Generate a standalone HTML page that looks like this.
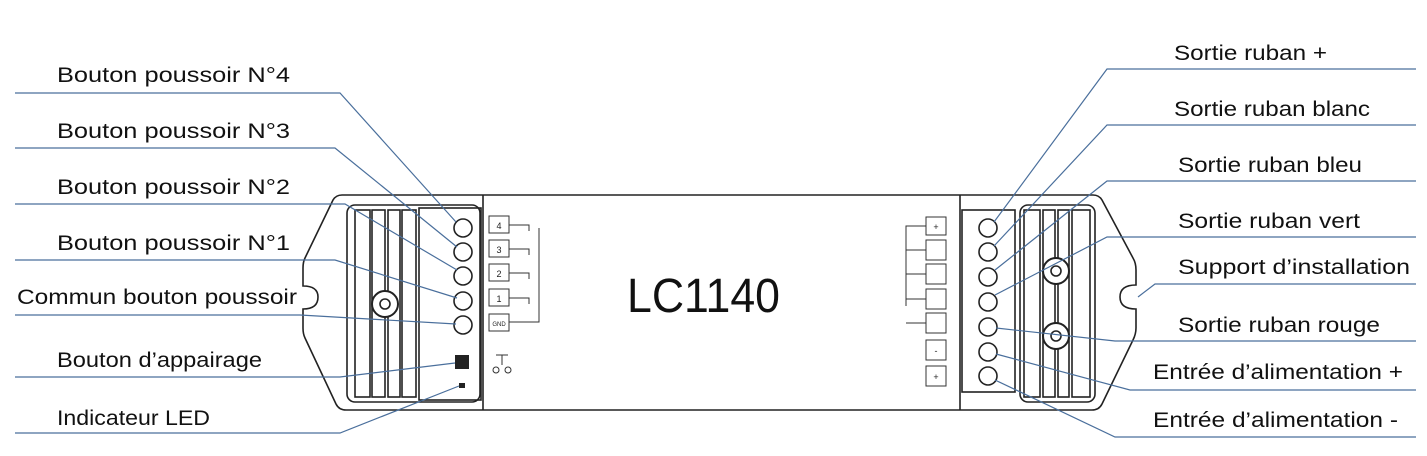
<!DOCTYPE html>
<html><head><meta charset="utf-8"><style>
html,body{margin:0;padding:0;background:#fff;}
svg{display:block;}
text{font-family:"Liberation Sans",sans-serif;}
.l{font-size:21px;fill:#111;}
</style></head><body>
<svg width="1427" height="456" viewBox="0 0 1427 456" xmlns="http://www.w3.org/2000/svg">
<rect width="1427" height="456" fill="#fff"/>
<g fill="none" stroke="#222" stroke-width="1.6">
<path d="M483 195 L342 195 Q336 195 333 200 L305 258 Q303 262 303 268 L303 286 Q318 286 318 297 Q318 309 303 309 L303 328 Q303 334 305 338 L336 404 Q339 410 346 410 L483 410"/>
<rect x="347" y="205" width="133" height="197" rx="8"/>
<rect x="355" y="210" width="15" height="187"/><rect x="372" y="210" width="13" height="187"/>
<rect x="388" y="210" width="12" height="187"/><rect x="402" y="210" width="14" height="187"/>
<rect x="419" y="208" width="62" height="192"/>
<circle cx="385" cy="304" r="13" fill="#fff" stroke-width="2"/><circle cx="385" cy="304" r="5"/>
<line x1="483" y1="195" x2="960" y2="195"/><line x1="483" y1="410" x2="960" y2="410"/>
<line x1="483" y1="195" x2="483" y2="410"/><line x1="960" y1="195" x2="960" y2="410"/>
<path d="M960 195 L1093 195 Q1099 195 1102 200 L1133 258 Q1136 263 1136 270 L1136 285 Q1120 285 1120 297 Q1120 309 1136 309 L1136 328 Q1136 334 1133 340 L1102 404 Q1099 410 1092 410 L960 410"/>
<rect x="962" y="210" width="53" height="182"/>
<rect x="1020" y="205" width="75" height="197" rx="8"/>
<rect x="1024" y="210" width="16" height="187"/><rect x="1043" y="210" width="12" height="187"/>
<rect x="1058" y="210" width="11" height="187"/><rect x="1072" y="210" width="18" height="187"/>
<circle cx="1056" cy="271" r="13" fill="#fff" stroke-width="2"/><circle cx="1056" cy="271" r="5"/>
<circle cx="1056" cy="336" r="13" fill="#fff" stroke-width="2"/><circle cx="1056" cy="336" r="5"/>
<circle cx="463" cy="228" r="9"/><circle cx="463" cy="252" r="9"/><circle cx="463" cy="276" r="9"/>
<circle cx="463" cy="301" r="9"/><circle cx="463" cy="325" r="9"/>
<circle cx="988" cy="228" r="9"/><circle cx="988" cy="252" r="9"/><circle cx="988" cy="277" r="9"/>
<circle cx="988" cy="302" r="9"/><circle cx="988" cy="327" r="9"/><circle cx="988" cy="352" r="9"/><circle cx="988" cy="376" r="9"/>
</g>
<rect x="455" y="355" width="14" height="14" fill="#222"/>
<rect x="459" y="383" width="6" height="5" fill="#222"/>
<g fill="none" stroke="#333" stroke-width="1">
<rect x="489" y="216" width="20" height="17"/><rect x="489" y="240" width="20" height="17"/>
<rect x="489" y="264" width="20" height="17"/><rect x="489" y="289" width="20" height="17"/>
<rect x="489" y="314" width="20" height="17"/>
<path d="M509 225 h20 v6 M509 249 h20 v6 M509 273 h20 v6 M509 298 h20 v6 M509 322 h30 V228"/>
<path d="M496 355 h12 M502 355 v10"/><circle cx="496" cy="370" r="3"/><circle cx="508" cy="370" r="3"/>
<rect x="926" y="217" width="20" height="18"/><rect x="926" y="240" width="20" height="20"/>
<rect x="926" y="264" width="20" height="20"/><rect x="926" y="289" width="20" height="20"/>
<rect x="926" y="313" width="20" height="20"/><rect x="926" y="340" width="20" height="20"/><rect x="926" y="366" width="20" height="20"/>
<path d="M926 226 h-20 v80 M906 250 h20 M906 274 h20 M906 299 h20 M906 323 h20"/>
</g>
<g font-size="9" fill="#222" text-anchor="middle">
<text x="499" y="229">4</text><text x="499" y="253">3</text><text x="499" y="277">2</text><text x="499" y="302">1</text><text x="499" y="326" font-size="6">GND</text>
<text x="936" y="230">+</text><text x="936" y="354">-</text><text x="936" y="380">+</text>
</g>
<text x="627" y="312" font-size="48" fill="#111" textLength="153" lengthAdjust="spacingAndGlyphs">LC1140</text>
<g fill="none" stroke="#4a6f9c" stroke-width="1.2">
<path d="M15 93 H340 L456 222"/>
<path d="M15 148 H335 L457 247"/>
<path d="M15 204 H345 L457 270"/>
<path d="M15 260 H335 L457 298"/>
<path d="M15 315 H300 L456 324"/>
<path d="M15 377 H340 L455 363"/>
<path d="M15 433 H340 L459 386"/>
<path d="M1416 69 H1107 L994 222"/>
<path d="M1416 125 H1107 L994 246"/>
<path d="M1416 181 H1107 L995 270"/>
<path d="M1416 237 H1107 L995 295"/>
<path d="M1416 284 H1155 L1138 297"/>
<path d="M1416 341 H1115 L996 328"/>
<path d="M1416 390 H1130 L996 354"/>
<path d="M1416 437 H1115 L995 380"/>
</g>
<g class="l" lengthAdjust="spacingAndGlyphs">
<text x="57" y="82" textLength="233" lengthAdjust="spacingAndGlyphs">Bouton poussoir N°4</text>
<text x="57" y="138" textLength="233" lengthAdjust="spacingAndGlyphs">Bouton poussoir N°3</text>
<text x="57" y="194" textLength="233" lengthAdjust="spacingAndGlyphs">Bouton poussoir N°2</text>
<text x="57" y="250" textLength="233" lengthAdjust="spacingAndGlyphs">Bouton poussoir N°1</text>
<text x="17" y="304" textLength="280" lengthAdjust="spacingAndGlyphs">Commun bouton poussoir</text>
<text x="57" y="367" textLength="205" lengthAdjust="spacingAndGlyphs">Bouton d’appairage</text>
<text x="57" y="425" textLength="153" lengthAdjust="spacingAndGlyphs">Indicateur LED</text>
<text x="1174" y="60" textLength="153" lengthAdjust="spacingAndGlyphs">Sortie ruban +</text>
<text x="1174" y="116" textLength="196" lengthAdjust="spacingAndGlyphs">Sortie ruban blanc</text>
<text x="1178" y="172" textLength="184" lengthAdjust="spacingAndGlyphs">Sortie ruban bleu</text>
<text x="1178" y="228" textLength="182" lengthAdjust="spacingAndGlyphs">Sortie ruban vert</text>
<text x="1178" y="274" textLength="232" lengthAdjust="spacingAndGlyphs">Support d’installation</text>
<text x="1178" y="332" textLength="202" lengthAdjust="spacingAndGlyphs">Sortie ruban rouge</text>
<text x="1153" y="379" textLength="250" lengthAdjust="spacingAndGlyphs">Entrée d’alimentation +</text>
<text x="1153" y="427" textLength="245" lengthAdjust="spacingAndGlyphs">Entrée d’alimentation -</text>
</g>
</svg>
</body></html>
